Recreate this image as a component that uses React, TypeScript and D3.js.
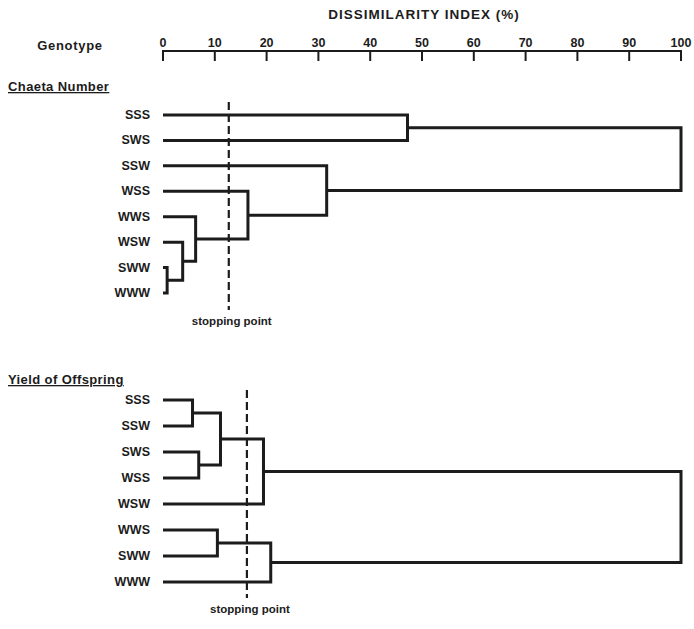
import * as d3 from "d3";

// axis
const ticks = [0, 10, 20, 30, 40, 50, 60, 70, 80, 90, 100];

// chaeta number dendrogram (leaves top to bottom, merges: [childA, childB, dissimilarity])
const chaetaLeaves = ["SSS", "SWS", "SSW", "WSS", "WWS", "WSW", "SWW", "WWW"];
const chaetaMerges: [number, number, number][] = [
  [6, 7, 0.8],
  [5, 8, 3.8],
  [4, 9, 6.3],
  [3, 10, 16.4],
  [2, 11, 31.6],
  [0, 1, 47.2],
  [13, 12, 100],
];
const chaetaStop = 12.7;

// yield of offspring dendrogram
const yieldLeaves = ["SSS", "SSW", "SWS", "WSS", "WSW", "WWS", "SWW", "WWW"];
const yieldMerges: [number, number, number][] = [
  [0, 1, 5.7],
  [2, 3, 6.9],
  [8, 9, 11.1],
  [10, 4, 19.4],
  [5, 6, 10.5],
  [12, 7, 20.8],
  [11, 13, 100],
];
const yieldStop = 16.2;

const font = "'Liberation Sans', Arial, sans-serif";
const ink = "#1c1c1c";

const xScale = d3.scaleLinear().domain([0, 100]).range([163, 681]);

function Dendrogram({ leaves, merges, y0, y1, stop, stopTop, stopBottom, title, titleY }) {
  const yScale = d3.scalePoint().domain(leaves).range([y0, y1]);
  const nodes = leaves.map((l) => ({ x: xScale(0), y: yScale(l) }));
  const paths: string[] = [];
  for (const [a, b, h] of merges) {
    const na = nodes[a];
    const nb = nodes[b];
    const xm = xScale(h);
    paths.push(`M${na.x},${na.y}H${xm}V${nb.y}H${nb.x}`);
    nodes.push({ x: xm, y: (na.y + nb.y) / 2 });
  }
  const xs = xScale(stop);
  return (
    <g>
      <text
        x={8}
        y={titleY}
        fontSize="13"
        fontWeight="bold"
        letterSpacing="0.4"
        fontFamily={font}
        fill={ink}
        style={{ textDecoration: "underline" }}
      >
        {title}
      </text>
      {leaves.map((l) => (
        <text
          key={l}
          x={150}
          y={yScale(l)}
          textAnchor="end"
          dominantBaseline="central"
          fontSize="12.5"
          fontWeight="bold"
          fontFamily={font}
          fill={ink}
        >
          {l}
        </text>
      ))}
      {paths.map((d, i) => (
        <path key={i} d={d} fill="none" stroke={ink} strokeWidth={3} strokeLinejoin="miter" />
      ))}
      <line x1={xs} x2={xs} y1={stopTop} y2={stopBottom} stroke={ink} strokeWidth={2.2} strokeDasharray="8,4" />
      <text
        x={xs + 3}
        y={stopBottom + 15}
        textAnchor="middle"
        fontSize="11.5"
        fontWeight="bold"
        fontFamily={font}
        fill={ink}
      >
        stopping point
      </text>
    </g>
  );
}

export default function App() {
  return (
    <svg width={694} height={629} style={{ position: "absolute", left: 0, top: 0, background: "#fff" }}>
      <text
        x={424}
        y={19}
        textAnchor="middle"
        fontSize="13.5"
        fontWeight="bold"
        letterSpacing="1"
        fontFamily={font}
        fill={ink}
      >
        DISSIMILARITY INDEX (%)
      </text>
      <text
        x={70}
        y={50}
        textAnchor="middle"
        fontSize="13"
        fontWeight="bold"
        letterSpacing="0.7"
        fontFamily={font}
        fill={ink}
      >
        Genotype
      </text>
      <line x1={xScale(0)} x2={xScale(100)} y1={51} y2={51} stroke={ink} strokeWidth={2} />
      {ticks.map((t) => (
        <g key={t} transform={`translate(${xScale(t)},0)`}>
          <line y1={50} y2={61} stroke={ink} strokeWidth={2} />
          <text
            y={47}
            textAnchor="middle"
            fontSize="12.5"
            fontWeight="bold"
            fontFamily={font}
            fill={ink}
          >
            {t}
          </text>
        </g>
      ))}
      <Dendrogram
        leaves={chaetaLeaves}
        merges={chaetaMerges}
        y0={115}
        y1={293}
        stop={chaetaStop}
        stopTop={102}
        stopBottom={310}
        title="Chaeta Number"
        titleY={91}
      />
      <Dendrogram
        leaves={yieldLeaves}
        merges={yieldMerges}
        y0={400}
        y1={582}
        stop={yieldStop}
        stopTop={390}
        stopBottom={598}
        title="Yield of Offspring"
        titleY={384}
      />
    </svg>
  );
}
